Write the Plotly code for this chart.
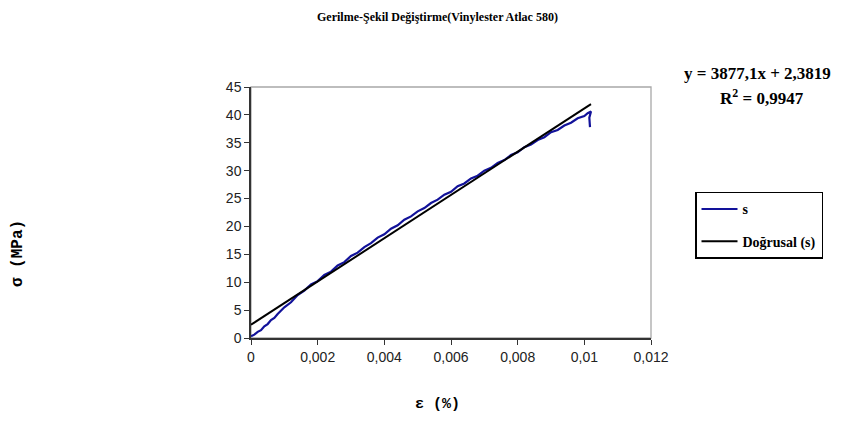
import plotly.graph_objects as go

# Measured stress-strain data (strain in mm/mm, stress in MPa)
strain = [0.0, 0.0001, 0.0002, 0.0003, 0.0004, 0.0005, 0.0006, 0.0007, 0.0008, 0.0009,
          0.0010, 0.0012, 0.0014, 0.0016, 0.0018, 0.0020, 0.0022, 0.0024, 0.0026, 0.0028,
          0.0030, 0.0032, 0.0034, 0.0036, 0.0038, 0.0040, 0.0042, 0.0044, 0.0046, 0.0048,
          0.0050, 0.0052, 0.0054, 0.0056, 0.0058, 0.0060, 0.0062, 0.0064, 0.0066, 0.0068,
          0.0070, 0.0072, 0.0074, 0.0076, 0.0078, 0.0080, 0.0082, 0.0084, 0.0086, 0.0088,
          0.0090, 0.0092, 0.0094, 0.0096, 0.0098, 0.0100, 0.0101, 0.0102, 0.01015, 0.01017]
stress = [0.3, 0.6, 1.1, 1.4, 2.1, 2.5, 3.2, 3.6, 4.3, 4.9,
          5.5, 6.4, 7.7, 8.5, 9.6, 10.2, 11.3, 11.9, 13.0, 13.6,
          14.7, 15.3, 16.3, 17.0, 18.0, 18.6, 19.6, 20.2, 21.2, 21.8,
          22.7, 23.3, 24.2, 24.8, 25.7, 26.2, 27.2, 27.7, 28.6, 29.1,
          30.0, 30.5, 31.4, 31.9, 32.8, 33.3, 34.2, 34.7, 35.5, 36.0,
          36.9, 37.3, 38.1, 38.6, 39.4, 39.8, 40.3, 40.6, 39.5, 37.8]

# Linear trend line coefficients (y = slope*x + intercept)
fit_slope = 3877.1
fit_intercept = 2.3819
fit_x = [0.0, 0.0102]
fit_y = [fit_slope * v + fit_intercept for v in fit_x]

x_tickvals = [0, 0.002, 0.004, 0.006, 0.008, 0.010, 0.012]
x_ticktext = ["0", "0,002", "0,004", "0,006", "0,008", "0,01", "0,012"]
y_tickvals = [0, 5, 10, 15, 20, 25, 30, 35, 40, 45]

title_text = "Gerilme-Şekil Değiştirme(Vinylester Atlac 580)"
eq_text = "y = 3877,1x + 2,3819"
r2_text = "R<sup>2</sup> = 0,9947"

serif = "Liberation Serif, Times New Roman, serif"
narrow = "Liberation Sans Narrow, Arial Narrow, Liberation Sans, sans-serif"
mono = "Liberation Mono, Courier New, monospace"

fig = go.Figure()
fig.add_trace(go.Scatter(x=strain, y=stress, mode="lines", name="<b>s</b>",
                         line=dict(color="#12129a", width=2.2), legendgroup="a"))
fig.add_trace(go.Scatter(x=fit_x, y=fit_y, mode="lines", name="<b>Doğrusal (s)</b>",
                         line=dict(color="#000000", width=2), legendgroup="b"))

fig.update_layout(
    width=842, height=444,
    margin=dict(l=251, r=191, t=87, b=106),
    paper_bgcolor="white", plot_bgcolor="white",
    showlegend=True,
    legend=dict(x=1.11, xanchor="left", y=0.582, yanchor="top",
                bordercolor="#000000", borderwidth=1.5,
                font=dict(family=serif, size=14, color="black"),
                tracegroupgap=11, itemwidth=36),
    annotations=[
        dict(text="<b>" + title_text + "</b>", xref="paper", yref="paper",
             x=0.465, y=1.278, xanchor="center", yanchor="middle", showarrow=False,
             font=dict(family=serif, size=12, color="black")),
        dict(text="<b>" + eq_text + "</b>", xref="paper", yref="paper",
             x=1.267, y=1.052, xanchor="center", yanchor="middle", showarrow=False,
             font=dict(family=serif, size=17, color="black")),
        dict(text="<b>" + r2_text + "</b>", xref="paper", yref="paper",
             x=1.277, y=0.96, xanchor="center", yanchor="middle", showarrow=False,
             font=dict(family=serif, size=17, color="black")),
        dict(text="<b>ε (%)</b>", xref="paper", yref="paper",
             x=0.465, y=-0.265, xanchor="center", yanchor="middle", showarrow=False,
             font=dict(family=mono, size=15, color="black")),
        dict(text="<b>σ (MPa)</b>", xref="paper", yref="paper",
             x=-0.582, y=0.335, xanchor="center", yanchor="middle", showarrow=False,
             textangle=-90, font=dict(family=mono, size=16, color="black")),
    ],
    shapes=[dict(type="rect", xref="paper", yref="paper", x0=0, y0=0, x1=1, y1=1,
                 line=dict(color="#a8a8a8", width=1.3), layer="below")],
)

fig.update_xaxes(range=[0, 0.012], tickvals=x_tickvals, ticktext=x_ticktext,
                 showgrid=False, zeroline=False, showline=True, linecolor="#333333",
                 linewidth=1.5, ticks="outside", ticklen=5, tickcolor="#333333",
                 tickfont=dict(family=narrow, size=14, color="#222222"))
fig.update_yaxes(range=[0, 45], tickvals=y_tickvals,
                 showgrid=False, zeroline=False, showline=True, linecolor="#333333",
                 linewidth=1.5, ticks="outside", ticklen=5, tickcolor="#333333",
                 tickfont=dict(family=narrow, size=14, color="#222222"))

fig.write_html("out.html", config={"displayModeBar": False},
               post_script="document.body.style.margin='0';")
